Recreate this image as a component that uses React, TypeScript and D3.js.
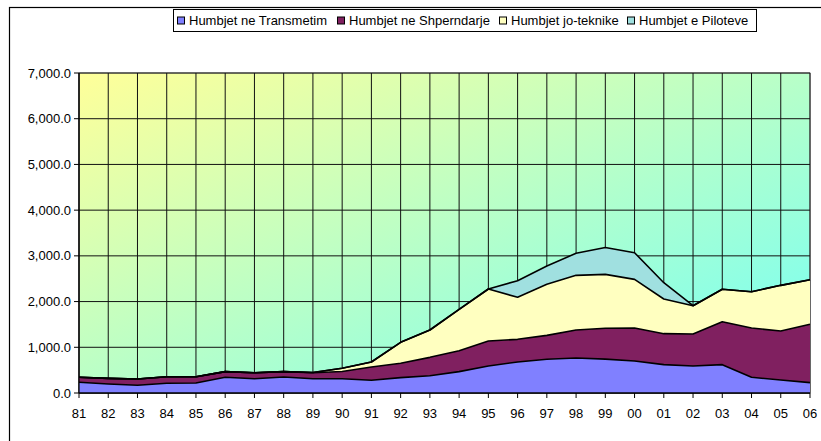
import React from "react";
import * as d3 from "d3";

const years = ["81","82","83","84","85","86","87","88","89","90","91","92","93","94","95","96","97","98","99","00","01","02","03","04","05","06"];
const transmetim = [234,197,168,212,219,343,313,350,313,313,280,336,379,467,591,678,737,766,740,700,620,591,620,343,284,226];
const shperndarje = [109,124,138,145,138,124,131,117,131,157,290,313,401,459,547,496,524,612,678,722,678,700,940,1079,1072,1276];
const joTeknike = [0,0,0,0,0,0,0,0,5,70,108,459,598,904,1137,919,1116,1196,1177,1064,758,619,708,794,999,977];
const piloteve = [0,0,0,0,0,0,0,0,0,0,0,0,0,0,0,364,401,482,588,583,357,0,0,0,0,0];
const seriesNames = ["Humbjet ne Transmetim","Humbjet ne Shperndarje","Humbjet jo-teknike","Humbjet e Piloteve"];
const seriesColors = ["#8080FF","#802060","#FFFFC0","#A0E0E0"];
const yTicks = [0,1000,2000,3000,4000,5000,6000,7000];

const W = 821, H = 441;
const left = 79, right = 810, top = 73, bottom = 393;

export default function App() {
  const rows = years.map((y, i) => ({ year: y, s0: transmetim[i], s1: shperndarje[i], s2: joTeknike[i], s3: piloteve[i] }));
  const stack = d3.stack<any>().keys(["s0","s1","s2","s3"]);
  const layers = stack(rows);
  const x = d3.scalePoint<string>().domain(years).range([left, right]);
  const y = d3.scaleLinear().domain([0, 7000]).range([bottom, top]);
  const area = d3.area<any>().x((d) => x(d.data.year)!).y0((d) => y(d[0])).y1((d) => y(d[1]));
  const line = d3.line<any>().x((d) => x(d.data.year)!).y((d) => y(d[1]));
  const fmt = d3.format(",.1f");
  const legendX = [177, 337, 499, 627];
  const font = "'Liberation Sans', Arial, sans-serif";
  return (
    <svg width={W} height={H} style={{ position: "absolute", left: 0, top: 0, display: "block" }} fontFamily={font}>
      <defs>
        <linearGradient id="bg" x1="0" y1="0" x2="1" y2="1">
          <stop offset="0%" stopColor="#FFFF99" />
          <stop offset="100%" stopColor="#70FFF8" />
        </linearGradient>
      </defs>
      <rect x={0} y={0} width={W} height={H} fill="#fff" />
      <rect x={9.5} y={7.5} width={W + 20} height={H + 20} fill="none" stroke="#000" strokeWidth={1.2} />
      <rect x={left} y={top} width={right - left} height={bottom - top} fill="url(#bg)" stroke="#808080" strokeWidth={1} />
      {years.map((yr) => (
        <line key={"vg" + yr} x1={x(yr)} x2={x(yr)} y1={top} y2={bottom} stroke="#111" strokeWidth={1} />
      ))}
      {yTicks.map((t) => (
        <line key={"hg" + t} x1={left} x2={right} y1={y(t)} y2={y(t)} stroke="#111" strokeWidth={1} />
      ))}
      {layers.map((l, i) => (
        <path key={"a" + i} d={area(l as any) || ""} fill={seriesColors[i]} />
      ))}
      {layers.map((l, i) => (
        <path key={"l" + i} d={line(l as any) || ""} fill="none" stroke="#000" strokeWidth={1.6} strokeLinejoin="round" />
      ))}
      <line x1={left} x2={left} y1={top} y2={bottom} stroke="#000" strokeWidth={1.2} />
      <line x1={left} x2={right} y1={bottom} y2={bottom} stroke="#000" strokeWidth={1.5} />
      {yTicks.map((t) => (
        <g key={"yt" + t}>
          <line x1={left - 5} x2={left} y1={y(t)} y2={y(t)} stroke="#000" />
          <text x={left - 8} y={y(t)} dy="0.35em" textAnchor="end" fontSize={13} fill="#000">{fmt(t)}</text>
        </g>
      ))}
      {years.map((yr) => (
        <g key={"xt" + yr}>
          <line x1={x(yr)} x2={x(yr)} y1={bottom} y2={bottom + 5} stroke="#000" />
          <text x={x(yr)} y={413} dy="0.35em" textAnchor="middle" fontSize={13} fill="#000">{yr}</text>
        </g>
      ))}
      <rect x={173.5} y={9.5} width={583} height={22} fill="#fff" stroke="#000" strokeWidth={1} />
      {seriesNames.map((n, i) => (
        <g key={"lg" + i}>
          <rect x={legendX[i] + 0.5} y={17} width={7} height={7} fill={seriesColors[i]} stroke="#000" strokeWidth={1} />
          <text x={legendX[i] + 12} y={20.5} dy="0.35em" fontSize={13} fill="#000">{n}</text>
        </g>
      ))}
    </svg>
  );
}
